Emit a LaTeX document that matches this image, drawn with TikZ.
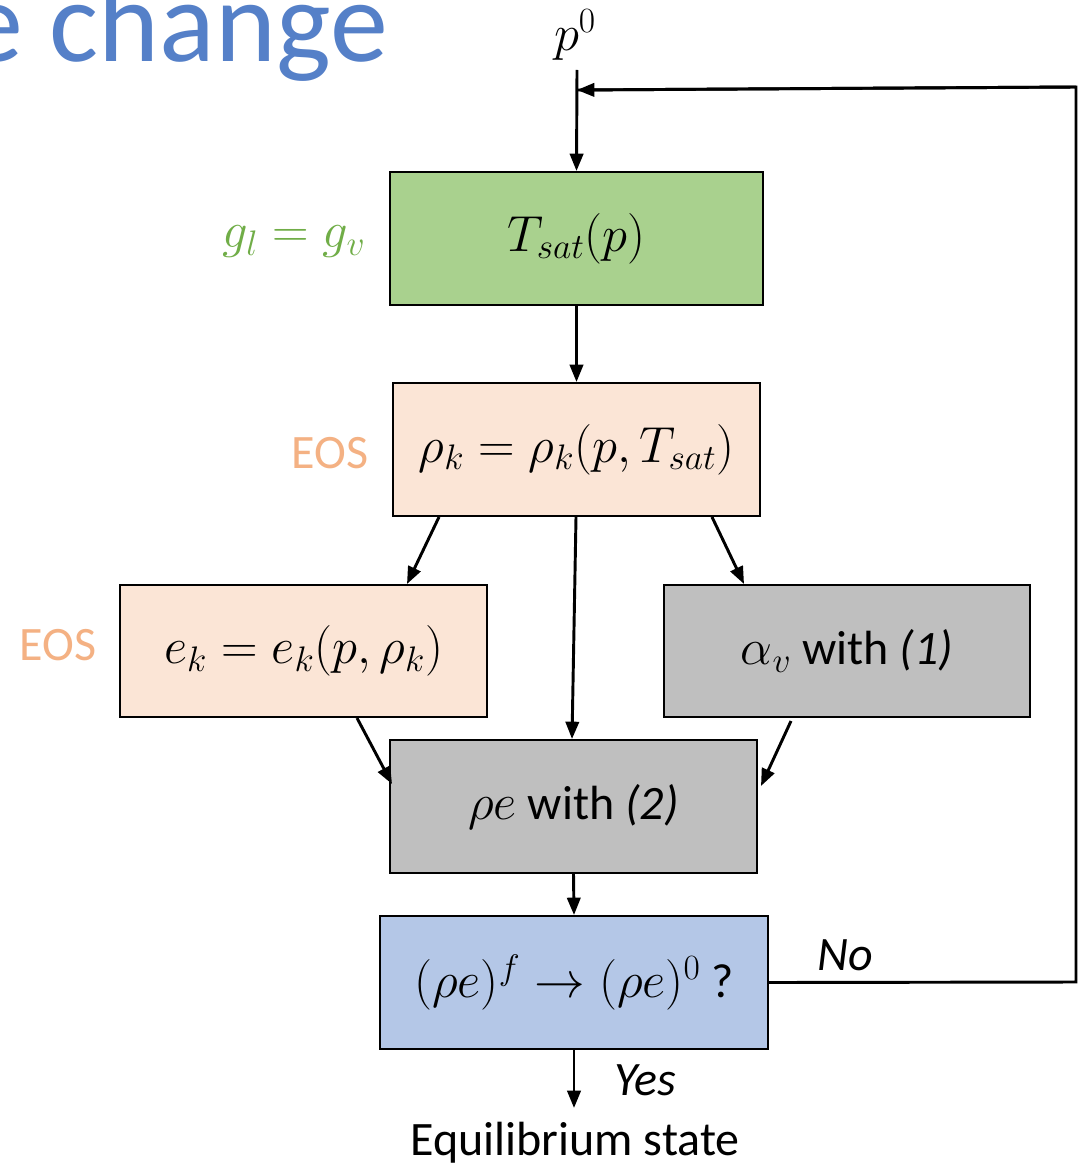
\RequirePackage{fix-cm}
\documentclass[tikz,border=0pt]{standalone}
\usepackage{fontspec}
\setmainfont{Carlito}
\usetikzlibrary{arrows.meta,calc}
\definecolor{gfill}{HTML}{A9D18E}
\definecolor{ofill}{HTML}{FBE5D6}
\definecolor{grfill}{HTML}{BFBFBF}
\definecolor{bfill}{HTML}{B4C7E7}
\definecolor{gtext}{HTML}{70AD47}
\definecolor{otext}{HTML}{F4B183}
\definecolor{ttext}{HTML}{5580C8}
\newcommand{\mymath}[1]{{\fontsize{38}{44}\selectfont$#1$}}
\tikzset{
  box/.style={draw=black,line width=1.5pt,inner sep=0pt,minimum height=99.75pt,font=\fontsize{36}{42}\selectfont},
  arr/.style={line width=2.2pt,-{Triangle[length=13pt,width=10pt]}},
  lbl/.style={font=\fontsize{36}{42}\selectfont,inner sep=0pt},
}
\begin{document}
\begin{tikzpicture}[x=0.75pt,y=-0.75pt]
\clip (0,0) rectangle (1078,1166);
\fill[white] (0,0) rectangle (1078,1166);
% title fragment
\node[anchor=base east,inner sep=0pt,text=ttext,font=\fontsize{87}{100}\selectfont] (title) at (388,62) {e change};
% boxes
\node[box,fill=gfill,minimum width=279.75pt] (sat) at (576.5,238.5) {\mymath{T_{sat}(p)}};
\node[box,fill=ofill,minimum width=275.25pt] (rho) at (576.5,449.5) {\mymath{\rho_k=\rho_k(p,T_{sat})}};
\node[box,fill=ofill,minimum width=275.25pt,minimum height=99pt] (ek) at (303.5,651) {\mymath{e_k=e_k(p,\rho_k)}};
\node[box,fill=grfill,minimum width=274.5pt,minimum height=99pt] (alpha) at (847,651) {\mymath{\alpha_v} with \textit{(1)}};
\node[box,fill=grfill,minimum width=275.25pt] (rhoe) at (573.5,806.5) {\mymath{\rho e} with \textit{(2)}};
\node[box,fill=bfill,minimum width=291pt] (conv) at (574,982.5) {\mymath{(\rho e)^f\rightarrow(\rho e)^0} ?};
% side labels
\node[lbl,text=gtext] (gl) at (294,242) {\mymath{g_l=g_v}};
\node[lbl,text=otext] (eos1) at (330,453) {EOS};
\node[lbl,text=otext] (eos2) at (58,645) {EOS};
\node[lbl] (p0) at (575,35) {\mymath{p^0}};
\node[lbl,font=\fontsize{36}{42}\selectfont\itshape] (yes) at (645,1080) {Yes};
\node[lbl,font=\fontsize{36}{42}\selectfont\itshape] (no) at (845,955) {No};
\node[lbl] (eq) at (575,1143) {Equilibrium state};
% coordinates
\coordinate (in) at (577,70);
\coordinate (fb) at (577,90);
\coordinate (out) at (574,1108);
% connectors
\draw[arr] (in) -- (sat.north);
\draw[line width=2.2pt] (conv.east) -- (1076,982) -- (1076,87) -- (fb);
\draw[arr] (1076,87) -- (fb);
\draw[arr] (sat.south) -- (rho.north);
\draw[arr] ($(rho.south west)+(47,0)$) -- ($(ek.north west)+(288,0)$);
\draw[arr] ($(rho.south west)+(184,0)$) -- ($(rhoe.north west)+(183,0)$);
\draw[arr] ($(rho.south west)+(320,0)$) -- ($(alpha.north west)+(81,0)$);
\draw[arr] ($(ek.south west)+(238,0)$) -- ($(rhoe.north west)+(3,45)$);
\draw[arr] ($(alpha.south west)+(128,3)$) -- ($(rhoe.north east)+(3,47)$);
\draw[arr] (rhoe.south) -- (conv.north);
\draw[arr] (conv.south) -- (out);
\end{tikzpicture}
\end{document}
